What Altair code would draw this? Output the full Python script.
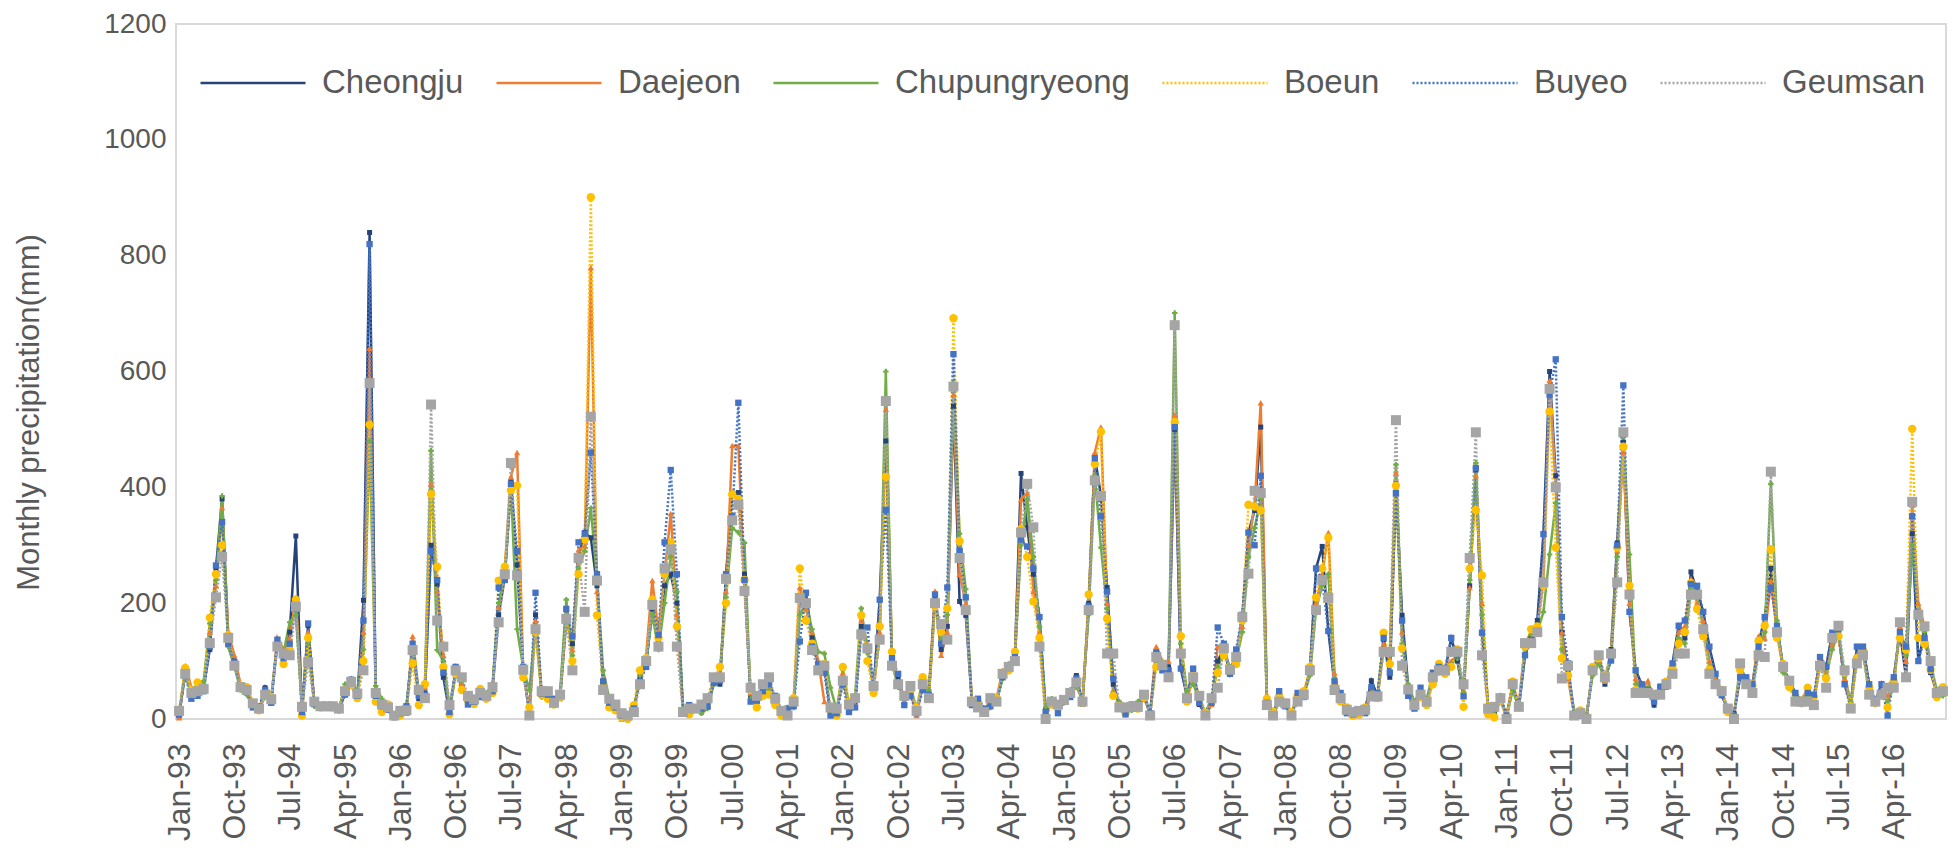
import altair as alt
import pandas as pd

MONTHS = ["Jan", "Feb", "Mar", "Apr", "May", "Jun", "Jul", "Aug", "Sep", "Oct", "Nov", "Dec"]
YEARS = list(range(1993, 2017))
categories = [f"{m}-{str(y)[2:]}" for y in YEARS for m in MONTHS]
tick_labels = categories[::9]

stations = ["Cheongju", "Daejeon", "Chupungryeong", "Boeun", "Buyeo", "Geumsan"]
colors = ["#264478", "#ED7D31", "#70AD47", "#FFC000", "#4472C4", "#A5A5A5"]
dashes = [[1, 0], [1, 0], [1, 0], [2, 2], [2, 2], [2, 2]]
shapes = ["square", "triangle-up", "cross", "circle", "square", "square"]
sizes = [25, 40, 30, 70, 40, 100]

cheongju = [
    5, 80, 40, 45, 55, 120, 260, 380, 140, 100, 55, 45,
    25, 15, 54, 30, 137, 100, 150, 316, 10, 161, 28, 20,
    20, 22, 15, 45, 60, 35, 205, 840, 35, 20, 15, 2,
    8, 20, 125, 35, 45, 300, 233, 72, 10, 85, 55, 30,
    28, 40, 38, 50, 180, 245, 410, 266, 85, 10, 180, 40,
    40, 30, 35, 170, 130, 280, 322, 313, 230, 60, 25, 18,
    5, 2, 20, 70, 95, 190, 130, 230, 250, 200, 15, 20,
    18, 12, 20, 65, 60, 250, 390, 391, 250, 40, 30, 45,
    65, 30, 10, 12, 25, 210, 218, 140, 95, 90, 10, 12,
    70, 20, 30, 160, 125, 50, 206, 480, 100, 70, 35, 45,
    12, 55, 40, 210, 120, 160, 540, 203, 179, 30, 25, 10,
    25, 30, 75, 90, 110, 424, 330, 250, 176, 15, 30, 18,
    30, 40, 75, 25, 200, 454, 385, 227, 60, 20, 15, 20,
    25, 40, 8, 110, 84, 90, 500, 87, 40, 84, 25, 8,
    30, 100, 122, 78, 107, 176, 322, 360, 504, 30, 6, 35,
    27, 6, 45, 42, 84, 260, 298, 152, 60, 36, 15, 10,
    10, 18, 66, 40, 137, 72, 406, 179, 55, 28, 50, 30,
    70, 90, 80, 140, 100, 39, 230, 430, 149, 18, 12, 36,
    5, 55, 20, 110, 140, 170, 319, 600, 420, 150, 80, 10,
    10, 3, 84, 110, 60, 120, 304, 478, 185, 84, 60, 50,
    24, 57, 55, 96, 161, 140, 254, 220, 185, 125, 78, 40,
    18, 10, 72, 72, 60, 130, 176, 260, 161, 90, 66, 45,
    30, 45, 30, 107, 90, 149, 150, 60, 25, 125, 125, 60,
    30, 60, 54, 72, 150, 72, 320, 100, 150, 80, 45, 50,
]

daejeon = [
    2, 92, 55, 52, 60, 150, 230, 365, 150, 110, 60, 50,
    30, 20, 40, 36, 140, 120, 140, 210, 15, 150, 25, 22,
    24, 18, 20, 52, 70, 42, 150, 640, 45, 30, 18, 5,
    12, 10, 143, 45, 55, 406, 220, 110, 15, 80, 60, 35,
    32, 50, 42, 55, 194, 260, 418, 460, 80, 15, 170, 45,
    45, 28, 42, 180, 120, 292, 299, 779, 220, 70, 30, 20,
    0, 5, 10, 80, 110, 239, 150, 250, 355, 180, 10, 15,
    20, 15, 25, 70, 80, 220, 472, 472, 230, 45, 25, 50,
    55, 35, 12, 18, 30, 227, 190, 150, 100, 30, 20, 8,
    80, 15, 25, 170, 130, 48, 150, 535, 110, 65, 30, 50,
    6, 60, 45, 221, 110, 150, 560, 250, 200, 35, 30, 15,
    30, 35, 84, 85, 100, 379, 390, 220, 150, 10, 28, 22,
    35, 45, 60, 30, 190, 460, 504, 200, 50, 25, 12, 18,
    20, 35, 12, 125, 100, 100, 525, 120, 35, 70, 30, 5,
    25, 125, 125, 85, 110, 160, 300, 370, 546, 42, 10, 30,
    25, 10, 38, 45, 80, 200, 250, 322, 80, 30, 18, 8,
    6, 15, 50, 35, 130, 100, 425, 150, 45, 20, 40, 28,
    65, 85, 90, 100, 110, 50, 227, 420, 200, 15, 10, 30,
    8, 60, 25, 130, 150, 160, 239, 585, 406, 150, 70, 8,
    12, 5, 80, 100, 65, 110, 290, 460, 200, 70, 50, 66,
    35, 45, 62, 85, 150, 160, 242, 200, 170, 100, 70, 48,
    15, 5, 80, 65, 55, 143, 140, 239, 150, 85, 60, 35,
    35, 50, 35, 100, 80, 130, 143, 70, 20, 110, 120, 50,
    35, 50, 40, 60, 160, 100, 370, 200, 160, 90, 40, 45,
]

chupungryeong = [
    12, 78, 45, 60, 65, 165, 240, 385, 125, 90, 50, 42,
    22, 18, 38, 40, 125, 115, 167, 180, 20, 130, 22, 18,
    18, 25, 14, 60, 62, 48, 120, 480, 57, 35, 22, 8,
    15, 25, 120, 50, 60, 463, 119, 100, 20, 75, 65, 28,
    30, 45, 45, 60, 200, 250, 400, 155, 88, 50, 160, 38,
    38, 32, 45, 206, 110, 260, 290, 364, 240, 84, 35, 22,
    8, 8, 15, 75, 100, 180, 120, 200, 280, 220, 18, 10,
    15, 10, 18, 60, 75, 210, 330, 322, 304, 35, 35, 55,
    50, 28, 8, 20, 20, 180, 200, 155, 116, 113, 54, 15,
    85, 25, 40, 191, 115, 60, 140, 600, 95, 55, 42, 55,
    18, 65, 50, 200, 140, 180, 580, 320, 224, 28, 22, 8,
    20, 30, 70, 95, 105, 300, 380, 280, 160, 20, 35, 15,
    28, 50, 55, 35, 180, 420, 296, 190, 45, 30, 18, 15,
    30, 45, 10, 100, 90, 85, 701, 130, 48, 60, 35, 12,
    35, 90, 115, 90, 100, 150, 280, 330, 380, 38, 8, 28,
    30, 8, 35, 40, 75, 190, 230, 250, 70, 40, 12, 12,
    12, 12, 45, 42, 120, 110, 439, 130, 60, 30, 45, 35,
    75, 80, 85, 95, 105, 45, 240, 442, 180, 22, 15, 40,
    3, 50, 18, 120, 145, 150, 185, 284, 373, 120, 85, 12,
    8, 8, 75, 95, 70, 100, 280, 490, 284, 60, 55, 55,
    40, 50, 58, 80, 140, 130, 225, 210, 160, 90, 65, 45,
    20, 8, 90, 70, 50, 120, 150, 406, 170, 80, 70, 40,
    25, 40, 28, 95, 75, 120, 150, 75, 30, 100, 115, 45,
    25, 45, 30, 55, 165, 110, 300, 180, 150, 95, 50, 40,
]

boeun = [
    15, 88, 50, 63, 50, 175, 250, 300, 145, 95, 58, 55,
    28, 15, 42, 38, 130, 95, 120, 206, 6, 140, 30, 20,
    22, 20, 20, 50, 58, 36, 100, 508, 30, 12, 25, 6,
    6, 18, 96, 24, 60, 388, 263, 90, 8, 78, 50, 32,
    26, 52, 35, 45, 239, 263, 395, 403, 72, 20, 150, 42,
    35, 25, 38, 175, 100, 250, 310, 901, 179, 55, 20, 15,
    3, 0, 24, 84, 105, 206, 140, 250, 305, 160, 12, 8,
    18, 20, 30, 68, 90, 200, 388, 380, 240, 50, 20, 40,
    42, 24, 6, 10, 36, 260, 170, 130, 90, 95, 15, 6,
    90, 30, 35, 179, 100, 45, 160, 418, 116, 60, 40, 48,
    20, 72, 38, 195, 150, 191, 692, 307, 190, 32, 28, 12,
    28, 36, 80, 84, 116, 328, 280, 203, 140, 5, 25, 20,
    32, 42, 66, 28, 215, 440, 496, 173, 40, 22, 10, 22,
    18, 38, 8, 90, 95, 80, 513, 143, 30, 75, 40, 10,
    30, 80, 110, 80, 95, 170, 370, 367, 360, 35, 12, 40,
    28, 12, 40, 48, 90, 210, 260, 313, 55, 30, 20, 6,
    8, 20, 40, 36, 149, 95, 403, 122, 48, 25, 38, 24,
    60, 95, 78, 90, 120, 21, 260, 361, 248, 8, 3, 32,
    0, 65, 22, 125, 155, 160, 230, 531, 296, 105, 75, 6,
    15, 2, 90, 105, 75, 113, 296, 470, 230, 50, 45, 48,
    38, 42, 65, 88, 130, 150, 235, 190, 143, 85, 60, 50,
    12, 3, 85, 60, 58, 135, 161, 293, 140, 95, 55, 30,
    32, 54, 38, 90, 70, 140, 143, 80, 22, 105, 118, 55,
    28, 42, 20, 65, 140, 120, 501, 140, 130, 85, 38, 55,
]

buyeo = [
    8, 75, 35, 40, 48, 125, 265, 340, 130, 98, 52, 48,
    20, 22, 50, 28, 137, 105, 130, 190, 12, 165, 26, 24,
    20, 24, 16, 42, 68, 40, 170, 820, 40, 22, 18, 4,
    10, 22, 130, 40, 42, 290, 240, 80, 12, 90, 70, 25,
    30, 38, 40, 48, 227, 240, 406, 290, 90, 8, 218, 44,
    42, 35, 40, 190, 143, 305, 320, 460, 250, 65, 28, 20,
    6, 4, 18, 65, 90, 200, 145, 305, 430, 250, 14, 24,
    20, 18, 22, 62, 66, 250, 350, 546, 240, 30, 32, 48,
    60, 40, 15, 18, 22, 134, 218, 125, 95, 80, 6, 10,
    60, 12, 20, 150, 158, 55, 206, 361, 105, 78, 24, 40,
    10, 50, 42, 215, 130, 227, 630, 290, 210, 24, 35, 18,
    22, 28, 72, 88, 107, 310, 298, 260, 176, 12, 32, 10,
    30, 38, 70, 32, 195, 450, 350, 220, 70, 18, 8, 25,
    22, 42, 10, 115, 84, 84, 504, 87, 36, 87, 28, 6,
    28, 158, 130, 78, 120, 180, 322, 300, 420, 28, 5, 48,
    22, 5, 45, 38, 84, 260, 240, 152, 65, 45, 10, 8,
    15, 10, 55, 45, 140, 80, 390, 170, 40, 18, 54, 32,
    80, 90, 88, 140, 110, 39, 280, 433, 149, 20, 18, 38,
    6, 58, 24, 110, 135, 150, 319, 560, 621, 176, 96, 5,
    6, 0, 84, 110, 72, 101, 300, 576, 185, 84, 60, 50,
    30, 55, 60, 96, 161, 170, 233, 230, 185, 125, 78, 42,
    18, 6, 72, 72, 60, 125, 176, 227, 161, 88, 66, 45,
    28, 45, 42, 107, 90, 149, 155, 60, 18, 125, 125, 60,
    32, 60, 6, 72, 150, 125, 350, 100, 140, 86, 46, 50,
]

geumsan = [
    14, 78, 45, 48, 52, 131, 210, 280, 140, 92, 55, 50,
    27, 18, 42, 34, 125, 113, 110, 194, 21, 98, 30, 22,
    22, 22, 18, 48, 64, 44, 84, 580, 45, 25, 20, 6,
    14, 15, 119, 50, 36, 543, 170, 125, 24, 84, 72, 40,
    34, 45, 40, 55, 167, 250, 442, 248, 85, 6, 155, 48,
    48, 28, 42, 173, 84, 278, 185, 522, 239, 50, 35, 25,
    10, 6, 12, 60, 100, 197, 125, 260, 293, 125, 12, 18,
    18, 25, 36, 72, 72, 242, 343, 370, 221, 54, 40, 60,
    72, 35, 14, 6, 30, 209, 200, 119, 84, 92, 20, 18,
    66, 25, 36, 146, 122, 57, 137, 549, 92, 60, 40, 57,
    14, 60, 36, 200, 164, 137, 574, 278, 188, 30, 20, 12,
    36, 30, 78, 90, 100, 322, 406, 331, 125, 0, 30, 25,
    33, 45, 63, 30, 188, 412, 385, 113, 113, 20, 20, 21,
    21, 42, 6, 107, 93, 72, 680, 113, 36, 72, 40, 6,
    36, 54, 122, 85, 107, 176, 251, 394, 390, 24, 6, 30,
    27, 6, 30, 42, 84, 188, 240, 209, 50, 36, 16, 12,
    14, 16, 39, 39, 116, 116, 516, 92, 51, 24, 42, 30,
    72, 84, 84, 116, 116, 60, 278, 495, 110, 18, 21, 36,
    0, 60, 21, 131, 131, 150, 236, 570, 400, 70, 92, 6,
    10, 0, 84, 110, 72, 113, 236, 495, 215, 45, 45, 45,
    42, 42, 60, 78, 113, 113, 215, 215, 155, 78, 60, 48,
    18, 0, 96, 60, 45, 110, 107, 427, 150, 90, 66, 30,
    30, 30, 24, 92, 54, 140, 161, 84, 18, 96, 110, 42,
    30, 42, 54, 54, 167, 72, 375, 180, 160, 100, 45, 48,
]

series = [cheongju, daejeon, chupungryeong, boeun, buyeo, geumsan]

rows = []
for name, vals in zip(stations, series):
    for i, (lab, v) in enumerate(zip(categories, vals)):
        rows.append({"station": name, "month": lab, "idx": i, "value": v})
df = pd.DataFrame(rows)

FONT = "Liberation Sans"
GRAY = "#595959"

legend = alt.Legend(
    title=None,
    orient="none",
    legendX=23,
    legendY=5,
    direction="horizontal",
    columns=6,
    symbolType="stroke",
    symbolSize=11025,
    symbolStrokeWidth=2.5,
    labelFont=FONT,
    labelFontSize=33,
    labelColor=GRAY,
    labelOffset=15,
    labelLimit=0,
    columnPadding=27,
    padding=0,
)

x_enc = alt.X(
    "month:O",
    sort=categories,
    scale=alt.Scale(type="point", padding=0.5),
    axis=alt.Axis(
        values=tick_labels,
        labelAngle=270,
        ticks=False,
        domain=False,
        grid=False,
        labelPadding=24,
        labelFont=FONT,
        labelFontSize=32,
        labelColor=GRAY,
        title=None,
    ),
)
y_enc = alt.Y(
    "value:Q",
    scale=alt.Scale(domain=[0, 1200], nice=False),
    axis=alt.Axis(
        values=[0, 200, 400, 600, 800, 1000, 1200],
        format="d",
        grid=False,
        domain=False,
        ticks=False,
        labelPadding=10,
        labelFont=FONT,
        labelFontSize=28,
        labelColor=GRAY,
        title="Monthly precipitation(mm)",
        titleFont=FONT,
        titleFontSize=31,
        titleFontWeight="normal",
        titleColor=GRAY,
        titleX=-147,
        titleY=388,
        titleAngle=270,
        titleBaseline="middle",
        titleAlign="center",
    ),
)

lines = alt.Chart(df).mark_line(strokeWidth=2.5).encode(
    x=x_enc,
    y=y_enc,
    color=alt.Color("station:N", scale=alt.Scale(domain=stations, range=colors), legend=legend),
    strokeDash=alt.StrokeDash("station:N", scale=alt.Scale(domain=stations, range=dashes), legend=legend),
    order="idx:Q",
)

point_layers = []
for name, col, shp, sz in zip(stations, colors, shapes, sizes):
    point_layers.append(
        alt.Chart(df)
        .transform_filter(alt.datum.station == name)
        .mark_point(filled=True, opacity=1, color=col, shape=shp, size=sz)
        .encode(x=x_enc, y=y_enc)
    )

chart = (
    alt.layer(lines, *point_layers)
    .properties(
        width=1770,
        height=695,
        background="white",
        autosize=alt.AutoSizeParams(type="none"),
        padding={"left": 168, "top": 16, "right": 6, "bottom": 130},
    )
    .configure_view(stroke="#d9d9d9", strokeWidth=2)
)

chart.save("out.html", embed_options={"renderer": "svg", "actions": False})
